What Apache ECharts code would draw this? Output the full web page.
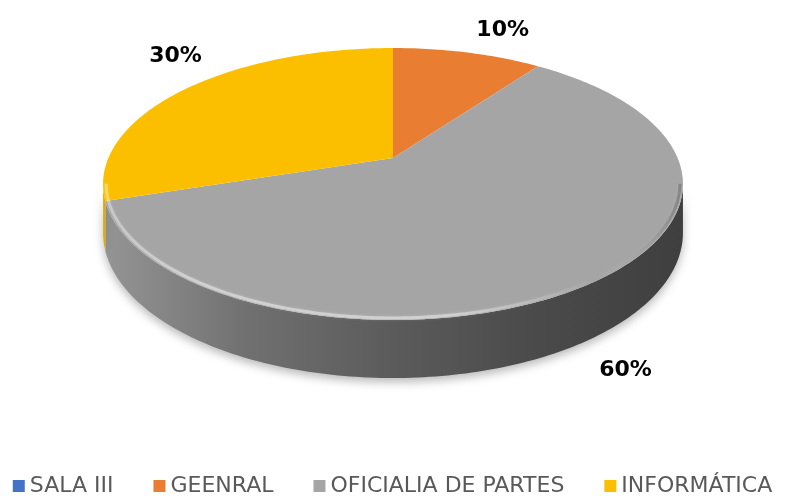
<!DOCTYPE html>
<html>
<head>
<meta charset="utf-8">
<script src="https://cdn.jsdelivr.net/npm/echarts@6/dist/echarts.min.js"></script>
<style>
html,body{margin:0;padding:0;background:#fff;}
#main{width:785px;height:498px;}
</style>
</head>
<body>
<div id="main"></div>
<script>
const categories = ["SALA III", "GEENRAL", "OFICIALIA DE PARTES", "INFORMÁTICA"];
const values = [0, 10, 60, 30];
const colors = ["#4472c4", "#e97d31", "#a5a5a5", "#fbbf00"];

// geometry of the tilted pie (pixels)
const cx = 393, cy = 158;   // projected centre of top face
const rx = 284.6, ry = 131;
const k = 0.191;            // perspective
const depth = 47;
const labelOffset = [[0, 0], [23, -5], [6, 12], [26, -20]];

const total = values.reduce((a, b) => a + b, 0);
const TAU = Math.PI * 2;
const tR = Math.acos(-k), tL = TAU - tR;   // silhouette of the side wall

function proj(t, r, drop) {
    const u = r * Math.sin(t), v = r * Math.cos(t);
    const w = 1 + k * v;
    return [cx + rx * u / w, cy - ry * v / w + (drop ? depth / w : 0)];
}
function arc(a0, a1, r, drop) {
    const pts = [];
    const n = Math.max(2, Math.ceil((a1 - a0) / (Math.PI / 180)));
    for (let j = 0; j <= n; j++) pts.push(proj(a0 + (a1 - a0) * j / n, r, drop));
    return pts;
}
function shade(hex, f) {
    const n = parseInt(hex.slice(1), 16);
    const r = Math.round(((n >> 16) & 255) * f), g = Math.round(((n >> 8) & 255) * f), b = Math.round((n & 255) * f);
    return `rgb(${r},${g},${b})`;
}

function renderSlice(i) {
    const children = [];
    if (!values[i]) return { type: "group", children };
    const before = values.slice(0, i).reduce((a, b) => a + b, 0);
    const a0 = TAU * before / total, a1 = TAU * (before + values[i]) / total;

    // side wall (front part only)
    const s0 = Math.max(a0, tR), s1 = Math.min(a1, tL);
    if (s1 > s0) {
        const pts = arc(s0, s1, 1, false).concat(arc(s0, s1, 1, true).reverse());
        children.push({
            type: "polygon", z2: 0,
            shape: { points: pts },
            style: {
                fill: {
                    type: "linear", x: cx - 290, y: 0, x2: cx + 290, y2: 0, global: true,
                    colorStops: [
                        { offset: 0, color: shade(colors[i], 0.9) },
                        { offset: 0.25, color: shade(colors[i], 0.68) },
                        { offset: 0.5, color: shade(colors[i], 0.55) },
                        { offset: 0.75, color: shade(colors[i], 0.45) },
                        { offset: 1, color: shade(colors[i], 0.38) }
                    ]
                },
                shadowColor: "rgba(0,0,0,0.28)", shadowBlur: 10, shadowOffsetY: 4
            }
        });
        // bevel highlight on the front rim
        children.push({
            type: "polyline", z2: 12, silent: true,
            shape: { points: arc(s0, s1, 0.99, false) },
            style: {
                fill: null, lineWidth: 3,
                stroke: {
                    type: "linear", x: cx - 290, y: 0, x2: cx + 290, y2: 0, global: true,
                    colorStops: [
                        { offset: 0, color: "rgba(255,255,255,0.3)" },
                        { offset: 0.15, color: "rgba(255,255,255,0.4)" },
                        { offset: 0.6, color: "rgba(255,255,255,0.4)" },
                        { offset: 0.85, color: "rgba(255,255,255,0)" },
                        { offset: 1, color: "rgba(0,0,0,0.25)" }
                    ]
                },
                shadowColor: "rgba(255,255,255,0.5)", shadowBlur: 3
            }
        });
    }

    // top face
    children.push({
        type: "polygon", z2: 10,
        shape: { points: [[cx, cy]].concat(arc(a0, a1, 1, false)) },
        style: { fill: colors[i] }
    });

    // percentage label
    const mid = (a0 + a1) / 2;
    const front = mid > Math.PI / 2 && mid < Math.PI * 1.5;
    const p = proj(mid, front ? 1.12 : 1.2, front);
    children.push({
        type: "text", z2: 100,
        x: p[0] + labelOffset[i][0], y: p[1] + labelOffset[i][1],
        style: {
            text: Math.round(values[i] / total * 100) + "%",
            fill: "#000", fontSize: 22, fontWeight: "bold",
            fontFamily: "'DejaVu Sans', sans-serif",
            align: "center", verticalAlign: "middle"
        }
    });
    return { type: "group", children };
}

const myChart = echarts.init(document.getElementById("main"));
myChart.setOption({
    animation: false,
    legend: {
        data: categories,
        left: "center",
        top: 470,
        icon: "rect",
        itemWidth: 12,
        itemHeight: 12,
        itemGap: 40,
        textStyle: { color: "#595959", fontSize: 22, fontFamily: "'DejaVu Sans', sans-serif" }
    },
    series: categories.map((name, i) => ({
        name: name,
        type: "custom",
        coordinateSystem: "none",
        itemStyle: { color: colors[i] },
        data: [values[i]],
        renderItem: () => renderSlice(i)
    }))
});
</script>
</body>
</html>
